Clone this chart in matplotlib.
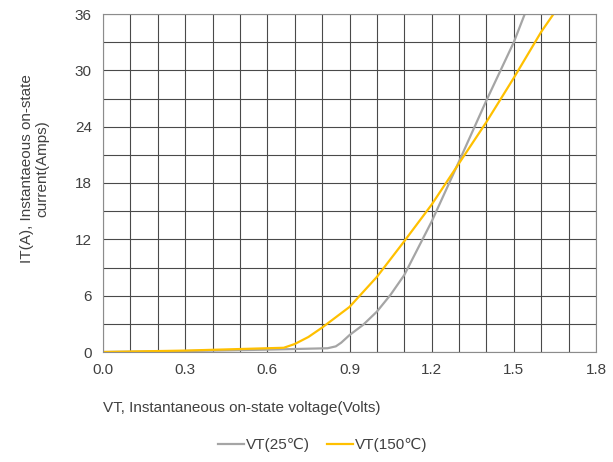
import numpy as np
import matplotlib.pyplot as plt

plt.rcParams['font.family'] = ['Liberation Sans', 'DejaVu Sans']

# forward characteristic
vt_25 = [0.0, 0.3, 0.6, 0.82, 0.85, 0.87, 0.9, 0.95, 1.0, 1.05, 1.1, 1.2, 1.3, 1.4, 1.5, 1.54]
it_25 = [0.0, 0.1, 0.25, 0.4, 0.6, 1.0, 1.8, 2.9, 4.3, 6.1, 8.2, 13.9, 20.3, 26.8, 33.0, 36.0]

vt_150 = [0.0, 0.3, 0.66, 0.7, 0.75, 0.8, 0.9, 1.0, 1.1, 1.2, 1.3, 1.4, 1.5, 1.6, 1.645]
it_150 = [0.0, 0.15, 0.45, 0.85, 1.6, 2.6, 4.8, 8.0, 11.8, 15.7, 20.1, 24.5, 29.2, 34.1, 36.0]

x_ticks = [0.0, 0.3, 0.6, 0.9, 1.2, 1.5, 1.8]
y_ticks = [0, 6, 12, 18, 24, 30, 36]

W, H = 613, 462
fig = plt.figure(figsize=(W / 100, H / 100), dpi=100)
ax = fig.add_axes([103 / W, 1 - 352 / H, (596 - 103) / W, (352 - 14) / H])

ax.plot(vt_25, it_25, color='#A5A5A5', lw=1.6, label='VT(25℃)')
ax.plot(vt_150, it_150, color='#FFC000', lw=1.6, label='VT(150℃)')

ax.set_xlim(0, 1.8)
ax.set_ylim(0, 36)
ax.set_xticks(x_ticks)
ax.set_xticklabels(['%.1f' % v for v in x_ticks])
ax.set_yticks(y_ticks)
ax.set_xticks(np.arange(0, 1.81, 0.1), minor=True)
ax.set_yticks(np.arange(0, 36.1, 3), minor=True)
ax.grid(which='both', color='#4a4a4a', lw=0.8)
ax.set_axisbelow(True)
ax.tick_params(which='both', length=0, labelsize=11, colors='#404040')
ax.tick_params(axis='x', pad=8)
ax.tick_params(axis='y', pad=8)
for s in ax.spines.values():
    s.set_color('#8c8c8c')
    s.set_linewidth(0.8)

fig.text(103 / W, 1 - 408 / H, 'VT, Instantaneous on-state voltage(Volts)',
         fontsize=11, color='#404040', ha='left', va='center')
fig.text(35 / W, 1 - 169 / H, 'IT(A), Instantaeous on-state\ncurrent(Amps)',
         fontsize=11, color='#404040', ha='center', va='center',
         rotation=90, multialignment='center', linespacing=1.1)

fig.legend(loc='center', bbox_to_anchor=(323 / W, 1 - 445 / H), ncol=2,
           frameon=False, fontsize=11, handlelength=1.7, handletextpad=0.15,
           columnspacing=1.1, labelcolor='#404040')

fig.savefig('out.png', dpi=100)
